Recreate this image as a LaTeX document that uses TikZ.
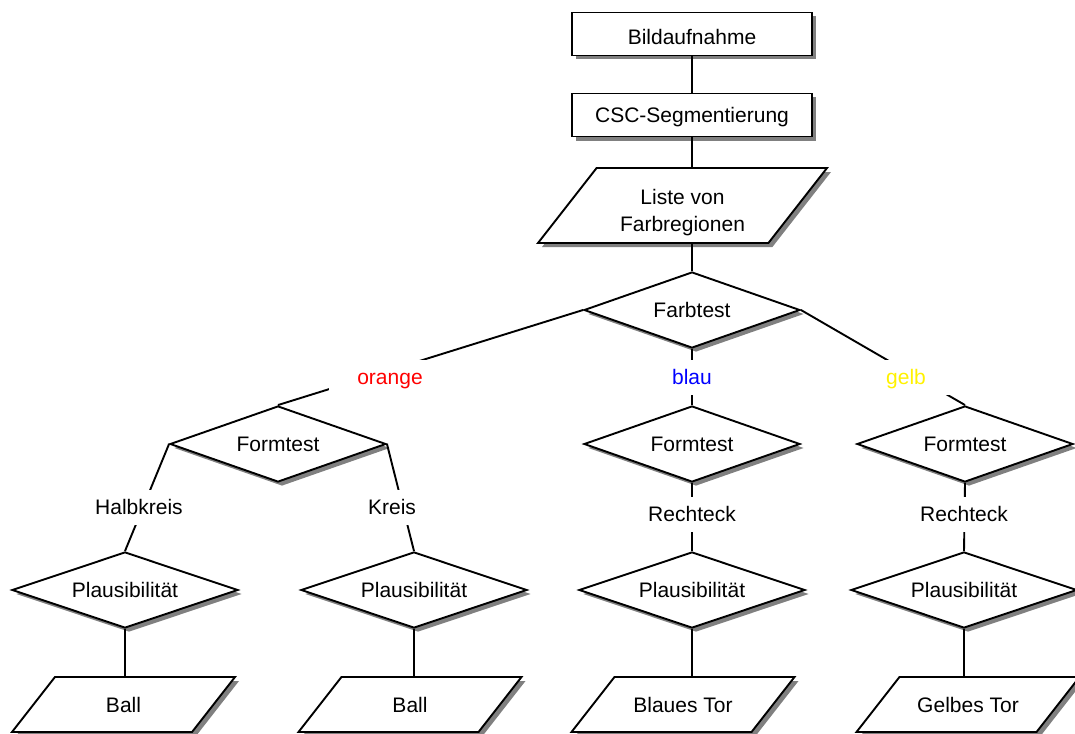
\documentclass[tikz,border=0pt]{standalone}
\usepackage{fontspec}
\setmainfont{Liberation Sans}
\usetikzlibrary{shapes.geometric,shadows}
\begin{document}
\begin{tikzpicture}[x=1pt,y=-1pt,
  every node/.style={font=\fontsize{21}{27}\selectfont, line width=1.9pt, text height=15.5pt, text depth=0pt},
  shad/.style={drop shadow={shadow xshift=4pt,shadow yshift=-4pt,fill=black!50,opacity=1}},
  box/.style={draw, fill=white, shad, rectangle, minimum width=240pt, minimum height=43pt, inner sep=0pt},
  test/.style={draw, fill=white, shad, diamond, aspect=2.8, minimum width=216pt, minimum height=76pt, inner sep=0pt},
  plaus/.style={test, minimum width=226pt},
  io/.style={draw, fill=white, shad, trapezium, trapezium left angle=52, trapezium right angle=128, trapezium stretches body, minimum width=223pt, inner sep=0pt, text height=35.25pt, text depth=19.75pt},
  lab/.style={fill=white, inner xsep=28pt, inner ysep=9.75pt},
  conn/.style={line width=1.9pt}
]
\useasboundingbox (0,0) rectangle (1075,733);

% nodes
\node[box, text height=22pt] (bild) at (692,34) {Bildaufnahme};
\node[box] (csc) at (692,115) {CSC-Segmentierung};
\node[io, minimum width=289pt, align=center, text height=63pt, text depth=12pt] (liste) at (682.5,205.5) {Liste von\\Farbregionen};
\node[test] (farb) at (692,310) {Farbtest};
\node[test] (form1) at (278,444) {Formtest};
\node[test] (form2) at (692,444) {Formtest};
\node[test] (form3) at (965,444) {Formtest};
\node[plaus] (plaus1) at (125,590) {Plausibilität};
\node[plaus] (plaus2) at (414,590) {Plausibilität};
\node[plaus] (plaus3) at (692,590) {Plausibilität};
\node[plaus] (plaus4) at (964,590) {Plausibilität};
\node[io] (out1) at (123.5,704.5) {Ball};
\node[io] (out2) at (410,704.5) {Ball};
\node[io] (out3) at (683,704.5) {Blaues Tor};
\node[io] (out4) at (968,704.5) {Gelbes Tor};

% connectors
\draw[conn] (bild.south) -- (csc.north);
\draw[conn] (csc.south) -- (csc.south |- liste.north);
\draw[conn] (liste.south -| farb.north) -- (farb.north);
\draw[conn] (farb.west) -- (form1.north);
\draw[conn] (farb.south) -- (form2.north);
\draw[conn] (farb.east) -- (form3.north);
\draw[conn] (form1.west) -- (plaus1.north);
\draw[conn] (form1.east) -- (plaus2.north);
\draw[conn] (form2.south) -- (plaus3.north);
\draw[conn] (form3.south) -- (plaus4.north);
\draw[conn] (plaus1.south) -- (plaus1.south |- out1.north);
\draw[conn] (plaus2.south) -- (plaus2.south |- out2.north);
\draw[conn] (plaus3.south) -- (plaus3.south |- out3.north);
\draw[conn] (plaus4.south) -- (plaus4.south |- out4.north);

% connector labels
\node[lab, text=red] (lorange) at (390,377) {orange};
\node[lab, text=blue] (lblau) at (692,377) {blau};
\node[lab, text=yellow] (lgelb) at (906,377) {gelb};
\node[lab] (lhalb) at (139,507) {Halbkreis};
\node[lab] (lkreis) at (392,507) {Kreis};
\node[lab] (lrecht1) at (692,514) {Rechteck};
\node[lab] (lrecht2) at (964,514) {Rechteck};
\end{tikzpicture}
\end{document}
